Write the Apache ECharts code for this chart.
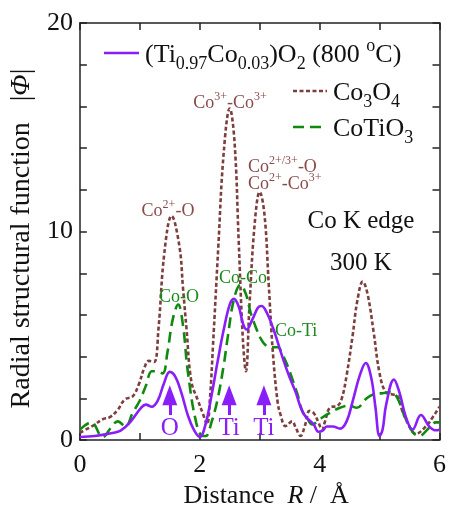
<!DOCTYPE html>
<html><head><meta charset="utf-8">
<script src="https://cdn.jsdelivr.net/npm/echarts@6.0.0/dist/echarts.min.js"></script>
<style>html,body{margin:0;padding:0;background:#fff}#c{width:449px;height:514px}</style>
</head><body><div id="c"></div><script>
// (Ti0.97Co0.03)O2 (800 oC)
const rTiCo = [0.0,0.25,0.52,0.68,0.85,1.02,1.1,1.2,1.3,1.4,1.5,1.6,1.7,1.8,1.9,2.0,2.1,2.2,2.3,2.4,2.5,2.57,2.65,2.72,2.78,2.88,2.97,3.03,3.12,3.22,3.3,3.4,3.5,3.6,3.68,3.76,3.9,3.98,4.05,4.12,4.22,4.34,4.45,4.55,4.67,4.77,4.86,4.93,5.0,5.05,5.11,5.24,5.33,5.44,5.55,5.69,5.83,5.94,6.0];
const phiTiCo = [0.15,0.2,0.33,0.45,0.9,1.55,1.7,1.6,1.9,2.7,3.27,3.0,2.2,1.2,0.5,0.15,0.8,2.2,3.8,5.3,6.5,6.77,6.4,5.6,5.3,5.8,6.35,6.43,6.1,5.4,4.7,3.8,3.0,2.3,1.6,1.15,0.75,0.4,0.45,0.65,0.65,0.55,0.9,1.85,3.1,3.7,3.0,1.6,0.2,0.5,1.7,2.9,2.3,1.1,0.5,1.2,0.65,0.47,0.5];
// Co3O4
const rCo3O4 = [0,0.25,0.38,0.5,0.63,0.75,0.88,0.98,1.08,1.15,1.24,1.31,1.41,1.53,1.66,1.72,1.78,1.86,1.97,2.06,2.12,2.17,2.22,2.31,2.4,2.5,2.58,2.65,2.72,2.77,2.83,2.92,3.0,3.08,3.15,3.22,3.3,3.35,3.43,3.54,3.6,3.68,3.76,3.83,3.9,3.98,4.04,4.09,4.17,4.3,4.37,4.45,4.55,4.63,4.72,4.8,4.9,5.0,5.1,5.2,5.3,5.38,5.5,5.6,5.77,5.9,6.0];
const phiCo3O4 = [0.35,0.75,1.0,1.1,1.45,1.95,2.1,2.65,3.5,3.8,3.75,5.3,9.0,10.75,9.3,7.3,5.3,2.8,1.9,1.2,0.75,2.0,4.5,9.3,13.8,15.9,14.3,9.5,4.8,3.3,6.5,10.5,11.9,10.8,7.5,4.2,1.8,1.2,0.67,0.9,0.6,0.2,0.75,1.4,1.3,0.85,0.5,0.9,1.55,1.65,2.0,3.1,5.0,6.7,7.6,7.0,5.2,3.2,2.3,2.2,2.1,1.4,0.65,0.3,0.65,1.15,1.6];
// CoTiO3
const rCoTiO3 = [0,0.19,0.38,0.52,0.63,0.76,0.88,1.0,1.1,1.2,1.28,1.38,1.46,1.55,1.64,1.72,1.8,1.94,2.05,2.1,2.2,2.3,2.4,2.47,2.57,2.68,2.77,2.85,2.95,3.02,3.1,3.2,3.3,3.38,3.46,3.56,3.63,3.71,3.8,3.88,4.0,4.17,4.34,4.5,4.62,4.78,4.9,5.05,5.2,5.3,5.41,5.55,5.66,5.83,5.94,6.0];
const phiCoTiO3 = [0.5,0.85,0.15,0.6,0.9,0.65,1.3,1.9,2.6,3.3,3.3,3.2,4.2,5.8,6.5,5.5,3.3,0.85,0.2,0.2,0.9,2.0,3.6,5.0,6.75,7.45,7.0,6.1,5.3,4.85,4.55,4.45,4.45,4.1,3.6,2.8,2.2,1.4,1.0,0.75,1.0,1.3,1.55,1.65,1.55,2.0,2.2,2.25,2.3,2.0,1.2,0.4,0.2,0.6,0.85,0.85];
// arrows (absorber-neighbour positions) and axis ticks
const arrowR = [1.5, 2.49, 3.07];
const arrowLabels = ['O', 'Ti', 'Ti'];
const xTickLabels = [0, 2, 4, 6];
const yTickLabels = [0, 10, 20];

const FF = 'Liberation Serif';
const PURPLE = '#8a1ef8', BROWN = '#7d3e3e', GREEN = '#0f8a0f';
const BROWN_T = '#8a4a4a', GREEN_T = '#1a8a1a';

function pairs(xs, ys){ return xs.map((x,i)=>[x, ys[i]]); }
function rich(size, color){
  const s = Math.round(size*0.68);
  return {
    n: {fontSize:size, fontFamily:FF, fill:color, color:color, lineHeight:Math.round(size*1.4)},
    b: {fontSize:s, fontFamily:FF, fill:color, color:color, verticalAlign:'bottom', lineHeight:Math.round(size*1.4)},
    p: {fontSize:s, fontFamily:FF, fill:color, color:color, verticalAlign:'top', lineHeight:Math.round(size*1.4)}
  };
}
function txt(x, y, text, size, color, align){
  return {type:'text', x:x, y:y, silent:true, z:50,
    style:{text:text, fontSize:size, fontFamily:FF, fill:color, align:align||'center', verticalAlign:'middle',
      lineHeight:Math.round(size*1.4), rich:rich(size,color)}};
}

const chart = echarts.init(document.getElementById('c'), null, {renderer:'canvas'});
const axisLineStyle = {color:'#222', width:1.5};
const arrowData = arrowR.map(r => [{coord:[r,1.2]},{coord:[r,2.15]}]);

const graphics = [
    {type:'line', shape:{x1:104,y1:53,x2:139,y2:53}, style:{stroke:PURPLE, lineWidth:2.6}},
    txt(145, 55, '{n|(Ti}{b|0.97}{n|Co}{b|0.03}{n|)O}{b|2}{n| (800 }{p|o}{n|C)}', 26, '#111', 'left'),
    {type:'line', shape:{x1:293,y1:91,x2:327,y2:91}, style:{stroke:BROWN, lineWidth:2.6, lineDash:[4,2.5]}},
    txt(333, 93, '{n|Co}{b|3}{n|O}{b|4}', 26, '#111', 'left'),
    {type:'line', shape:{x1:293,y1:127,x2:327,y2:127}, style:{stroke:GREEN, lineWidth:2.6, lineDash:[11,6]}},
    txt(333, 129, '{n|CoTiO}{b|3}', 26, '#111', 'left'),
    txt(168, 211, '{n|Co}{p|2+}{n|-O}', 18, BROWN_T),
    txt(230, 103, '{n|Co}{p|3+}{n|-Co}{p|3+}', 18, BROWN_T),
    txt(248, 167, '{n|Co}{p|2+/3+}{n|-O}', 18, BROWN_T, 'left'),
    txt(248, 184, '{n|Co}{p|2+}{n|-Co}{p|3+}', 18, BROWN_T, 'left'),
    txt(179, 297, '{n|Co-O}', 18, GREEN_T),
    txt(219, 278, '{n|Co-Co}', 18, GREEN_T, 'left'),
    txt(275, 331, '{n|Co-Ti}', 18, GREEN_T, 'left'),
    txt(361, 221, '{n|Co K edge}', 25, '#111'),
    txt(361, 263, '{n|300 K}', 25, '#111')
];

chart.setOption({
  animation:false,
  grid:{left:78, right:8, top:23, bottom:68, containLabel:false},
  xAxis:[{
    type:'value', min:0, max:6, interval:1, position:'bottom',
    axisLine:{show:true, onZero:false, lineStyle:axisLineStyle},
    axisTick:{show:true, inside:true, length:7, lineStyle:axisLineStyle},
    splitLine:{show:false},
    axisLabel:{margin:12, fontSize:26, fontFamily:FF, color:'#111',
      formatter:v => xTickLabels.indexOf(v) >= 0 ? String(v) : ''},
    name:'  Distance  {i|R} /  Å', nameLocation:'middle', nameGap:38,
    nameTextStyle:{fontSize:26, fontFamily:FF, color:'#111',
      rich:{i:{fontSize:26, fontFamily:FF, fontStyle:'italic', color:'#111'}}}
  },{
    type:'value', min:0, max:6, interval:1, position:'top',
    axisLine:{show:true, onZero:false, lineStyle:axisLineStyle},
    axisTick:{show:true, inside:true, length:7, lineStyle:axisLineStyle},
    axisLabel:{show:false}, splitLine:{show:false}
  }],
  yAxis:[{
    type:'value', min:0, max:20, interval:2, position:'left',
    axisLine:{show:true, onZero:false, lineStyle:axisLineStyle},
    axisTick:{show:true, inside:true, length:7, lineStyle:axisLineStyle},
    splitLine:{show:false},
    axisLabel:{margin:7, fontSize:26, fontFamily:FF, color:'#111',
      formatter:v => yTickLabels.indexOf(v) >= 0 ? String(v) : ''},
    name:'Radial structural function   |{i|Φ}|  ', nameLocation:'middle', nameGap:31, nameRotate:90,
    nameTextStyle:{fontSize:28, fontFamily:FF, color:'#111',
      rich:{i:{fontSize:28, fontFamily:FF, fontStyle:'italic', color:'#111'}}}
  },{
    type:'value', min:0, max:20, interval:2, position:'right',
    axisLine:{show:true, onZero:false, lineStyle:axisLineStyle},
    axisTick:{show:true, inside:true, length:7, lineStyle:axisLineStyle},
    axisLabel:{show:false}, splitLine:{show:false}
  }],
  series:[{
    name:'Co3O4', type:'line', data:pairs(rCo3O4, phiCo3O4), smooth:0.4, symbol:'none', z:2,
    lineStyle:{color:BROWN, width:2.6, type:[4,2.5]}
  },{
    name:'CoTiO3', type:'line', data:pairs(rCoTiO3, phiCoTiO3), smooth:0.4, symbol:'none', z:3,
    lineStyle:{color:GREEN, width:2.6, type:[11,6]}
  },{
    name:'(Ti0.97Co0.03)O2 (800 oC)', type:'line', data:pairs(rTiCo, phiTiCo), smooth:0.4, symbol:'none', z:4,
    lineStyle:{color:PURPLE, width:2.6},
    markLine:{silent:true, symbol:['none','triangle'], symbolSize:[15,20], precision:3,
      lineStyle:{color:PURPLE, width:3, type:'solid'}, label:{show:false}, emphasis:{disabled:true},
      data:arrowData}
  }],
  graphic:graphics
});

// arrow labels placed from data coordinates through the axes
const arrowTexts = arrowR.map((r,i) => {
  const p = chart.convertToPixel({gridIndex:0}, [r, 0]);
  return txt(p[0], p[1] - 12, '{n|' + arrowLabels[i] + '}', 25, PURPLE);
});
chart.setOption({graphic: graphics.concat(arrowTexts)});
</script></body></html>
